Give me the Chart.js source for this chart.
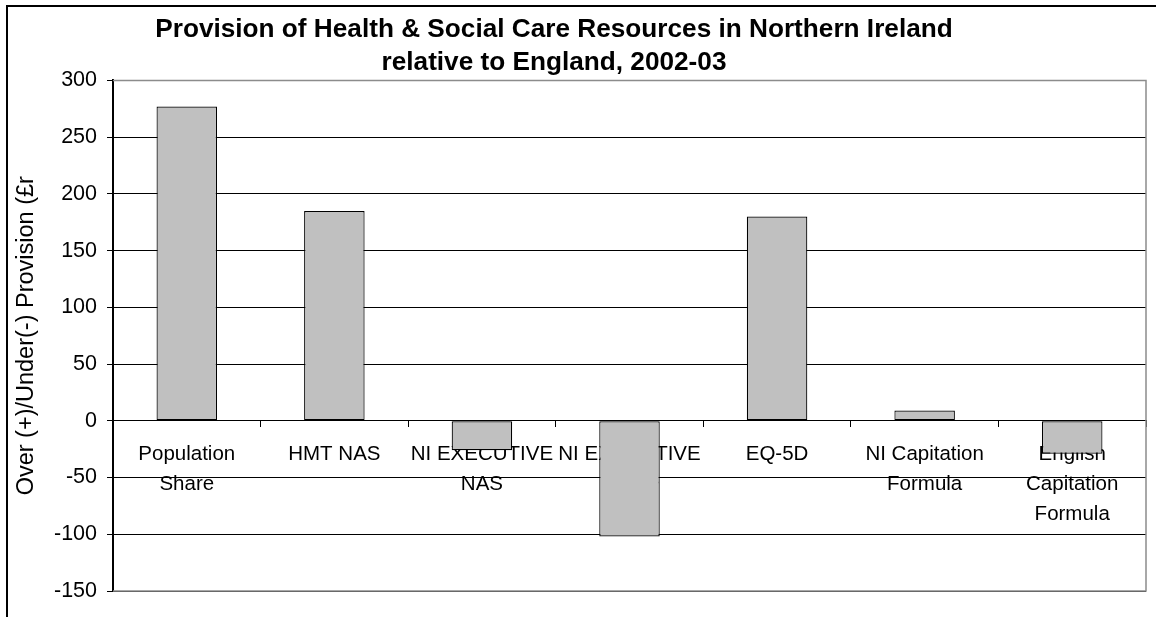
<!DOCTYPE html>
<html>
<head>
<meta charset="utf-8">
<title>Provision of Health & Social Care Resources</title>
<script src="https://cdn.jsdelivr.net/npm/chart.js@4"></script>
<style>
  html, body { margin: 0; padding: 0; background: #fff; overflow: hidden; }
  #moldura { position: absolute; left: 6px; top: 5px; width: 1200px; height: 700px;
             border-left: 2px solid #000; border-top: 2px solid #000; }
  #grafico { position: absolute; left: -38px; top: 0; }
</style>
</head>
<body>
<div id="moldura"></div>
<canvas id="grafico" width="1194" height="617"></canvas>
<script>
const categorias = [
  ['Population', 'Share'],
  'HMT NAS',
  ['NI EXECUTIVE', 'NAS'],
  ['NI EXECUTIVE', 'NAS +'],
  'EQ-5D',
  ['NI Capitation', 'Formula'],
  ['English', 'Capitation', 'Formula']
];
const provisao = [277, 185, -26, -102, 180, 9, -29];
const ticksY = [-150, -100, -50, 0, 50, 100, 150, 200, 250, 300];

const titulo = [
  'Provision of Health & Social Care Resources in Northern Ireland',
  'relative to England, 2002-03'
];
const tituloY = 'Over (+)/Under(-) Provision (£r';

const fonte = 'Liberation Sans, Arial, sans-serif';

// moldura cinza da área do gráfico (topo, direita, base)
const bordaArea = {
  id: 'bordaArea',
  beforeDatasetsDraw(chart) {
    const { ctx, chartArea: a } = chart;
    ctx.save();
    ctx.strokeStyle = '#8c8c8c';
    ctx.lineWidth = 1.5;
    ctx.beginPath();
    ctx.moveTo(a.left, a.top);
    ctx.lineTo(a.right, a.top);
    ctx.lineTo(a.right, a.bottom);
    ctx.lineTo(a.left, a.bottom);
    ctx.stroke();
    ctx.restore();
  }
};

const ctx = document.getElementById('grafico').getContext('2d');
const chart = new Chart(ctx, {
  type: 'bar',
  data: {
    labels: categorias,
    datasets: [{
      data: provisao,
      backgroundColor: '#c0c0c0',
      borderColor: '#000',
      borderWidth: 1.2,
      borderSkipped: false,
      barPercentage: 0.41,
      categoryPercentage: 1
    }]
  },
  options: {
    responsive: false,
    animation: false,
    layout: { padding: { left: 0, right: 10, top: 0, bottom: 26 } },
    plugins: {
      legend: { display: false },
      tooltip: { enabled: false },
      title: {
        display: true,
        text: titulo,
        color: '#000',
        font: { family: fonte, size: 26.2, weight: 'bold', lineHeight: 1.23 },
        padding: { top: 14, bottom: 2 }
      }
    },
    scales: {
      x: {
        position: { y: 0 },
        grid: {
          offset: true,
          drawOnChartArea: false,
          color: '#000',
          tickLength: 6
        },
        border: { color: '#000', width: 1 },
        ticks: {
          color: '#000',
          autoSkip: false,
          maxRotation: 0,
          padding: 13,
          font: { family: fonte, size: 20.5, lineHeight: 1.463 }
        }
      },
      y: {
        min: -150,
        max: 300,
        afterBuildTicks: (scale) => { scale.ticks = ticksY.map(v => ({ value: v })); },
        afterFit: (scale) => { scale.width = 151; },
        grid: { color: '#000', lineWidth: 1, tickLength: 6 },
        border: { color: '#000', width: 2 },
        ticks: {
          color: '#000',
          padding: 10,
          font: { family: fonte, size: 21.5 }
        },
        title: {
          display: true,
          text: tituloY,
          color: '#000',
          font: { family: fonte, size: 23.5 },
          padding: { top: 50, bottom: 0 }
        }
      }
    }
  },
  plugins: [bordaArea]
});
</script>
</body>
</html>
